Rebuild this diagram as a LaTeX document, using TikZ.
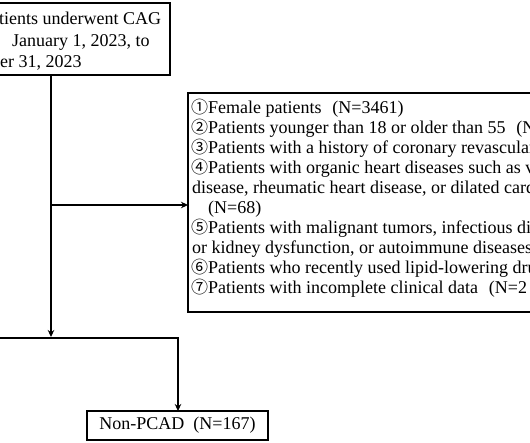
\documentclass[tikz,border=0pt]{standalone}
\usepackage{fontspec}
\setmainfont{Liberation Serif}
\newfontfamily\cjk{Noto Sans CJK SC}
\usetikzlibrary{arrows.meta}
\newcommand\cdig[1]{{\cjk\fontsize{17}{17}\selectfont #1}}
\begin{document}
\begin{tikzpicture}[x=1pt,y=-1pt,
  box/.style={draw, line width=2.4pt, inner sep=0pt, outer sep=0pt},
  conn/.style={line width=2pt, line join=miter},
  arr/.style={conn,-{Stealth[length=7pt,width=6.5pt]}},
  txt/.style={inner sep=0pt, anchor=base west, font=\fontsize{18}{20}\selectfont}]
\useasboundingbox (0,0) rectangle (530,442);
\fill[white] (0,0) rectangle (530,442);
\clip (0,0) rectangle (530,442);
% boxes
\node[box, minimum width=300pt, minimum height=72pt, anchor=north east] (top) at (170,3) {};
\node[box, minimum width=400pt, minimum height=219pt, anchor=north west] (excl) at (188,93) {};
\node[box, minimum width=181pt, minimum height=29pt, anchor=north west,
      font=\fontsize{18}{20}\selectfont] (non) at (87,411) {Non-PCAD\hspace{0.5em}(N=167)};
% top box text
\node[txt] (t1) at (-1,24) {tients underwent CAG};
\node[txt] (t2) at (12,46) {January 1, 2023, to};
\node[txt] (t3) at (0,67) {er 31, 2023};
% exclusion text
\node[txt] (l1) at (191,113) {\cdig{①}Female patients\hspace{0.6em}(N=3461)};
\node[txt] (l2) at (191,133) {\cdig{②}Patients younger than 18 or older than 55\hspace{0.6em}(N};
\node[txt] (l3) at (191,153) {\cdig{③}Patients with a history of coronary revascular};
\node[txt] (l4) at (191,173) {\cdig{④}Patients with organic heart diseases such as v};
\node[txt] (l5) at (192,193) {disease, rheumatic heart disease, or dilated card};
\node[txt] (l6) at (208,213) {(N=68)};
\node[txt] (l7) at (191,233) {\cdig{⑤}Patients with malignant tumors, infectious di};
\node[txt] (l8) at (192,253) {or kidney dysfunction, or autoimmune diseases};
\node[txt] (l9) at (191,273) {\cdig{⑥}Patients who recently used lipid-lowering dru};
\node[txt] (l10) at (191,293) {\cdig{⑦}Patients with incomplete clinical data\hspace{0.6em}(N=2};
% connectors
\coordinate (j1) at (51,205);
\coordinate (j2) at (51,337);
\coordinate (hl) at (-5,338);
\coordinate (hr) at (178,338);
\draw[arr] (top.south -| j1) -- (j2);
\draw[arr] (j1) -- (excl.west |- j1);
\draw[arr] (hl) -- (hr) -- (hr |- non.north);
\end{tikzpicture}
\end{document}
